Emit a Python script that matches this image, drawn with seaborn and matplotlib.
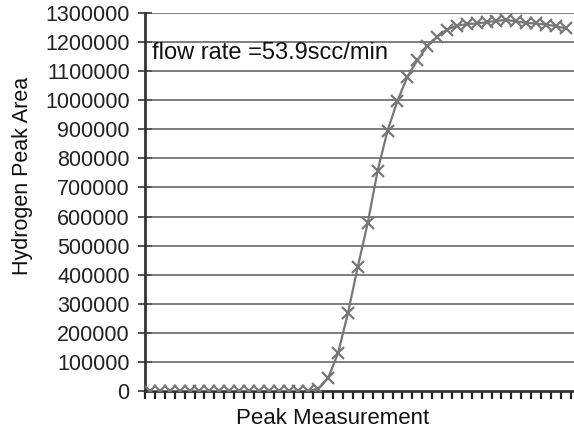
import matplotlib
matplotlib.use("Agg")
import matplotlib.pyplot as plt
import numpy as np
import pandas as pd
import seaborn as sns

# peak number (category) and hydrogen peak area
measurement = list(range(1, 44))
peak_area = [
    0, 0, 0, 0, 0, 0, 0, 0, 0, 0,
    0, 0, 0, 0, 0, 0, 0, 8000, 45000, 130000,
    268000, 428000, 578000, 758000, 895000, 998000, 1080000, 1137000, 1185000, 1218000,
    1243000, 1256000, 1262000, 1264000, 1268000, 1273000, 1276000, 1271000, 1266000, 1264000,
    1260000, 1255000, 1247000,
]
y_ticks = list(range(0, 1300001, 100000))
note = "flow rate =53.9scc/min"

sns.set_style("white")
plt.rcParams["font.family"] = ["Liberation Sans", "DejaVu Sans"]

df = pd.DataFrame({"measurement": measurement, "area": peak_area})

fig = plt.figure(figsize=(5.74, 4.38), dpi=100)
ax = fig.add_axes([145 / 574, 47 / 438, 429 / 574, 378 / 438])

for yv in y_ticks[1:]:
    ax.axhline(yv, color="#5a5a5a", lw=1.1, zorder=1)

sns.lineplot(
    data=df, x="measurement", y="area", ax=ax,
    color="#777777", lw=1.6, marker="x", markersize=9,
    markeredgewidth=1.6, markeredgecolor="#777777", zorder=3,
)

ax.set_ylim(0, 1300000)
ax.set_xlim(0.5, 0.5 + 429 / 9.9)
ax.set_yticks(y_ticks)
ax.set_yticklabels([str(v) for v in y_ticks], fontsize=15.5, color="#222222")
ax.set_xticks(np.arange(0.5, 44.5, 1))
ax.set_xticklabels([])
ax.tick_params(axis="x", bottom=True, direction="out", length=6, width=1.6, color="#222222")
ax.tick_params(axis="y", left=True, direction="inout", length=10, width=1.2,
               color="#333333", pad=6)

for side in ["top", "right"]:
    ax.spines[side].set_visible(False)
for side in ["left", "bottom"]:
    ax.spines[side].set_color("#333333")
    ax.spines[side].set_linewidth(2)

ax.set_xlabel("Peak Measurement", fontsize=16, color="#111111")
ax.xaxis.set_label_coords(0.438, -0.072)
ax.xaxis.label.set_va("center")
ax.set_ylabel("Hydrogen Peak Area", fontsize=15.5, color="#111111")
ax.yaxis.set_label_coords(-0.285, 0.569)
ax.yaxis.label.set_va("center")

ax.text(0.017, 0.895, note, transform=ax.transAxes, fontsize=17,
        color="#111111", ha="left", va="center")

fig.savefig("out.png", dpi=100)
